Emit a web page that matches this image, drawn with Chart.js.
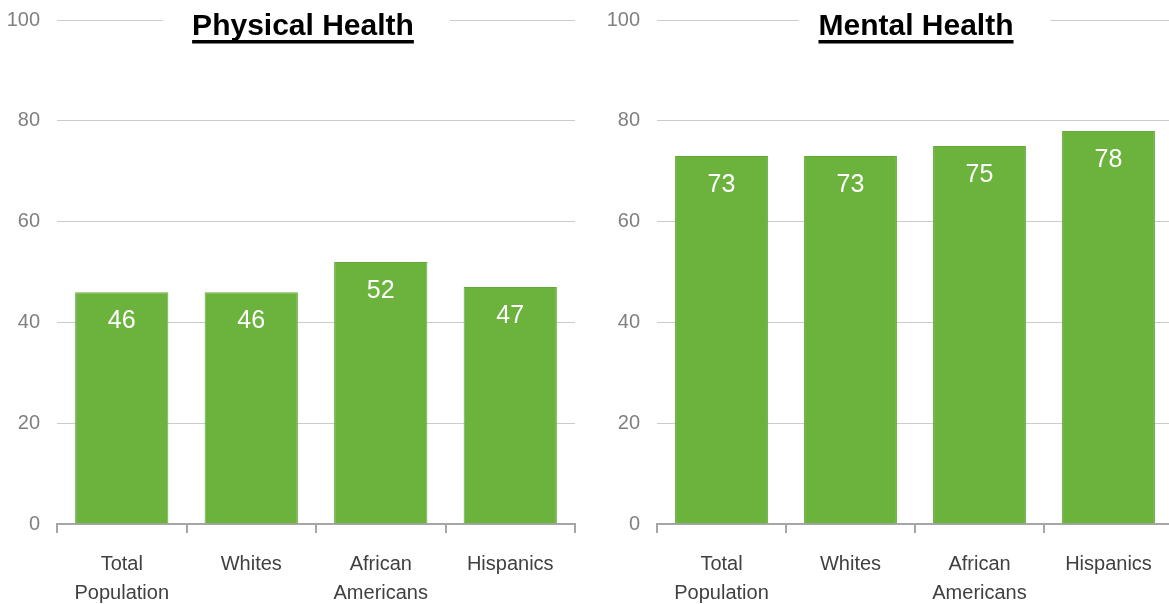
<!DOCTYPE html>
<html>
<head>
<meta charset="utf-8">
<script src="https://cdn.jsdelivr.net/npm/chart.js@4.4.0/dist/chart.umd.min.js"></script>
<style>
  html, body { margin: 0; padding: 0; background: #fff; overflow: hidden; }
  #wrap { position: relative; width: 1169px; height: 604px; overflow: hidden; }
  .box { position: absolute; top: 0; height: 604px; }
</style>
</head>
<body>
<div id="wrap">
  <div class="box" style="left:0;width:590px"><canvas id="graficoFisica" width="590" height="604"></canvas></div>
  <div class="box" style="left:600px;width:575px"><canvas id="graficoMental" width="575" height="604"></canvas></div>
</div>
<script>
const categorias = [['Total', 'Population'], 'Whites', ['African', 'Americans'], 'Hispanics'];
const saudeFisica = [46, 46, 52, 47];
const saudeMental = [73, 73, 75, 78];
const ticksY = [0, 20, 40, 60, 80, 100];

const verde = '#6cb33e';

// titulo sublinhado por cima da linha de 100
const tituloPlugin = {
  id: 'tituloPlugin',
  afterDraw(chart, args, opts) {
    const ctx = chart.ctx;
    ctx.save();
    ctx.font = 'bold 30px "Liberation Sans", Arial, sans-serif';
    const w = ctx.measureText(opts.text).width;
    ctx.fillStyle = '#fff';
    ctx.fillRect(opts.x - w / 2 - opts.padL, 4, w + opts.padL + opts.padR, 42);
    ctx.fillStyle = '#000';
    ctx.textAlign = 'center';
    ctx.textBaseline = 'alphabetic';
    ctx.fillText(opts.text, opts.x, 35);
    ctx.fillRect(opts.x - w / 2, 40, w, 3.5);
    ctx.restore();
  }
};

// valores dentro das barras
const valoresPlugin = {
  id: 'valoresPlugin',
  afterDatasetsDraw(chart) {
    const ctx = chart.ctx;
    const meta = chart.getDatasetMeta(0);
    ctx.save();
    ctx.font = '25px "Liberation Sans", Arial, sans-serif';
    ctx.fillStyle = '#fff';
    ctx.textAlign = 'center';
    ctx.textBaseline = 'middle';
    meta.data.forEach((bar, i) => {
      ctx.fillText(chart.data.datasets[0].data[i], bar.x, bar.y + 29);
    });
    ctx.restore();
  }
};

function criarGrafico(id, valores, titulo, tituloX, padL, padR, padDireita) {
  const ctx = document.getElementById(id).getContext('2d');
  return new Chart(ctx, {
    type: 'bar',
    data: {
      labels: categorias,
      datasets: [{
        data: valores,
        backgroundColor: verde,
        borderColor: '#63a839',
        borderWidth: 1,
        barPercentage: 0.72,
        categoryPercentage: 1
      }]
    },
    options: {
      responsive: false,
      animation: false,
      devicePixelRatio: 1,
      layout: { padding: { top: 20, right: padDireita, left: 0, bottom: 0 } },
      plugins: {
        legend: { display: false },
        tooltip: { enabled: false },
        tituloPlugin: { text: titulo, x: tituloX, padL: padL, padR: padR }
      },
      scales: {
        x: {
          grid: { drawOnChartArea: false, drawTicks: true, tickLength: 9, color: '#a6a6a6', lineWidth: 2, offset: true },
          border: { color: '#a6a6a6', width: 2 },
          ticks: {
            color: '#404040',
            padding: 17,
            font: { family: '"Liberation Sans", Arial, sans-serif', size: 20, lineHeight: 1.45 }
          },
          afterFit: s => { s.height = 80; s.paddingTop = 0; s.paddingBottom = 0; }
        },
        y: {
          min: 0,
          max: 100,
          afterBuildTicks: s => { s.ticks = ticksY.map(v => ({ value: v })); },
          grid: { color: '#cccccc', lineWidth: 1, drawTicks: false },
          border: { display: false },
          ticks: {
            color: '#808080',
            padding: 17,
            font: { family: '"Liberation Sans", Arial, sans-serif', size: 20 }
          },
          afterFit: s => { s.width = 57; s.paddingTop = 0; s.paddingBottom = 0; }
        }
      }
    },
    plugins: [valoresPlugin, tituloPlugin]
  });
}

criarGrafico('graficoFisica', saudeFisica, 'Physical Health', 303, 29, 36, 15);
criarGrafico('graficoMental', saudeMental, 'Mental Health', 316, 20, 37, 2);
</script>
</body>
</html>
